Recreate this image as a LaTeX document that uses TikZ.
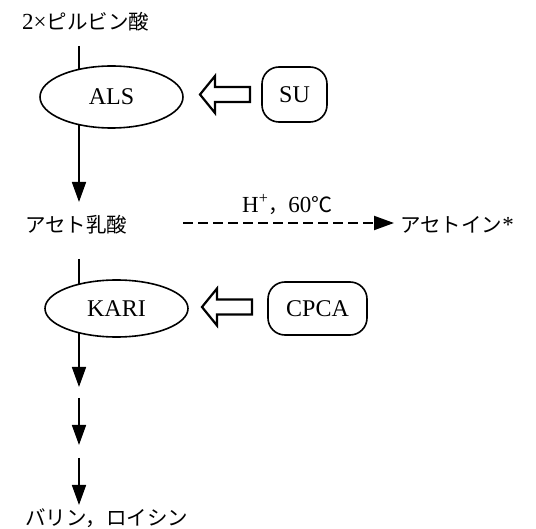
\documentclass[tikz,border=0pt]{standalone}
\usepackage{fontspec}
\setmainfont{Liberation Serif}
\newfontfamily\jp{Noto Sans CJK JP}
\usetikzlibrary{arrows.meta,shapes.geometric}
\tikzset{
  flow/.style={line width=1.7pt},
  tipped/.style={-{Triangle[length=20pt,width=14pt]}},
  enz/.style={ellipse,draw,line width=1.6pt,fill=white,minimum width=143pt,minimum height=60pt,inner sep=0pt,font=\fontsize{24}{28}\selectfont},
  inh/.style={draw,rounded corners=17pt,line width=1.6pt,minimum height=54pt,inner sep=0pt,font=\fontsize{24}{28}\selectfont},
  lbl/.style={anchor=west,inner sep=0pt,font=\jp\fontsize{20.5}{24}\selectfont},
  hollow/.pic={\draw[line width=2.2pt,line join=miter] (0,0) -- (15,18.5) -- (15,7.5) -- (50,7.5) -- (50,-7.5) -- (15,-7.5) -- (15,-18.5) -- cycle;}
}
\begin{document}
\begin{tikzpicture}[x=1pt,y=1pt]
\useasboundingbox (0,0) rectangle (536,-529);
% texts
\node[lbl] (pyr) at (22,-22) {{\rmfamily\fontsize{23}{28}\selectfont 2×}ピルビン酸};
\node[lbl] (ace) at (25,-225) {アセト乳酸};
\node[lbl] (act) at (400,-225) {アセトイン{\rmfamily\fontsize{23}{28}\selectfont *}};
\node[lbl] (val) at (25,-518) {バリン，ロイシン};
% coordinates of the vertical flow
\coordinate (s1) at (79,-46);
\coordinate (e1) at (79,-202);
\coordinate (s2) at (79,-259);
\coordinate (e2) at (79,-387);
\coordinate (s3) at (79,-398);
\coordinate (e3) at (79,-445);
\coordinate (s4) at (79,-458);
\coordinate (e4) at (79,-505);
\draw[flow,tipped] (s1) -- (e1);
\draw[flow,tipped] (s2) -- (e2);
\draw[flow,tipped] (s3) -- (e3);
\draw[flow,tipped] (s4) -- (e4);
% enzymes
\node[enz,minimum height=62pt] (als) at (111.5,-97) {ALS};
\node[enz,minimum height=57pt] (kari) at (116.5,-308.5) {KARI};
% inhibitors
\node[inh,minimum width=65pt,minimum height=55pt] (su) at (294.5,-94.5) {SU};
\node[inh,minimum width=99pt,minimum height=53pt] (cpca) at (317.5,-308.5) {CPCA};
\pic at (200,-94.5) {hollow};
\pic at (202,-307) {hollow};
% side reaction
\coordinate (d1) at (183,-223);
\coordinate (d2) at (394,-223);
\draw[flow,tipped,line width=2pt,dash pattern=on 10pt off 5pt] (d1) -- (d2);
\node[anchor=west,inner sep=0pt,font=\fontsize{23}{28}\selectfont] (cond) at (242,-205) {H\textsuperscript{+}{\jp\fontsize{20}{24}\selectfont ，}60{\jp\fontsize{21}{24}\selectfont ℃}};
\end{tikzpicture}
\end{document}
